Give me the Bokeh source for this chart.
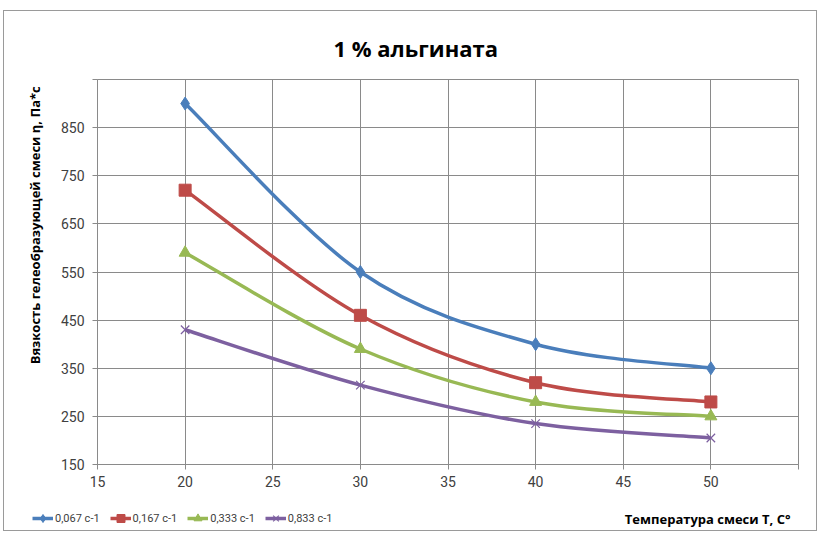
from bokeh.plotting import figure
from bokeh.models import FixedTicker, Legend, LegendItem, Label, Title
from bokeh.layouts import column
from bokeh.embed import file_html
from bokeh.resources import INLINE

# ---- data ----
temperature = [20, 30, 40, 50]
series_names = ["0,067 с-1", "0,167 с-1", "0,333 с-1", "0,833 с-1"]
visc_0067 = [900, 550, 400, 350]
visc_0167 = [720, 460, 320, 280]
visc_0333 = [590, 390, 280, 250]
visc_0833 = [430, 315, 235, 205]
x_ticks = [15, 20, 25, 30, 35, 40, 45, 50, 55]
y_ticks = [150, 250, 350, 450, 550, 650, 750, 850, 950]

title_text = "1 % альгината"
y_title = "Вязкость  гелеобразующей смеси  η, Па*с"
x_title = "Температура смеси Т, С°"

colors = ["#4A7EBB", "#BE4B48", "#98B954", "#7D60A0"]
markers = ["diamond", "square", "triangle", "x"]
msizes = [13, 12, 12, 12]
series = [visc_0067, visc_0167, visc_0333, visc_0833]

FONT = "Roboto"
GRID = "#8a8a8a"
W = 812

# ---- main chart ----
p = figure(width=W, height=483, output_backend="svg", toolbar_location=None,
           x_range=(15, 55), y_range=(150, 950),
           min_border_left=93, min_border_right=18, min_border_top=68, min_border_bottom=30)
p.frame_align = False

p.xaxis.ticker = FixedTicker(ticks=x_ticks)
p.yaxis.ticker = FixedTicker(ticks=y_ticks)
p.xaxis.major_label_overrides = {55: ""}
p.yaxis.major_label_overrides = {950: ""}
for ax in (p.xaxis, p.yaxis):
    ax.axis_line_color = GRID
    ax.major_tick_line_color = GRID
    ax.major_tick_out = 5
    ax.major_tick_in = 0
    ax.minor_tick_line_color = None
    ax.major_label_text_font = FONT
    ax.major_label_text_font_size = "14px"
    ax.major_label_text_color = "#404040"
p.yaxis.major_label_standoff = 8
p.xaxis.major_label_standoff = 6

p.xgrid.ticker = FixedTicker(ticks=x_ticks)
p.ygrid.ticker = FixedTicker(ticks=y_ticks)
p.grid.grid_line_color = GRID
p.grid.grid_line_width = 1
p.outline_line_color = GRID

p.title.text = title_text
p.title.align = "left"
p.title.offset = 236
p.title.text_font = "Open Sans"
p.title.text_font_size = "22px"
p.title.text_font_style = "bold"
p.title.text_color = "#000000"
p.title.standoff = 34

p.add_layout(Title(text=y_title, align="right", offset=0, standoff=28,
                   text_font="Open Sans", text_font_size="13px",
                   text_font_style="bold", text_color="#000000"), "left")

def smooth_controls(xs, ys):
    n = len(xs)
    segs = []
    for i in range(n - 1):
        i0 = max(i - 1, 0)
        i3 = min(i + 2, n - 1)
        cx0 = xs[i] + (xs[i + 1] - xs[i0]) / 6.0
        cy0 = ys[i] + (ys[i + 1] - ys[i0]) / 6.0
        cx1 = xs[i + 1] - (xs[i3] - xs[i]) / 6.0
        cy1 = ys[i + 1] - (ys[i3] - ys[i]) / 6.0
        segs.append((xs[i], ys[i], xs[i + 1], ys[i + 1], cx0, cy0, cx1, cy1))
    return segs

for ys, c, m, ms in zip(series, colors, markers, msizes):
    segs = smooth_controls(temperature, ys)
    p.bezier(x0=[s[0] for s in segs], y0=[s[1] for s in segs],
             x1=[s[2] for s in segs], y1=[s[3] for s in segs],
             cx0=[s[4] for s in segs], cy0=[s[5] for s in segs],
             cx1=[s[6] for s in segs], cy1=[s[7] for s in segs],
             line_color=c, line_width=3.5)
    if m == "x":
        p.scatter(temperature, ys, marker=m, size=ms, line_color=c, line_width=1.2)
    else:
        p.scatter(temperature, ys, marker=m, size=ms, fill_color=c, line_color=c)

# ---- legend strip (below the chart) ----
H2 = 36
p2 = figure(width=W, height=H2, output_backend="svg", toolbar_location=None,
            x_range=(0, W), y_range=(0, H2), x_axis_type=None, y_axis_type=None,
            min_border=0)
p2.frame_align = False
p2.outline_line_color = None
p2.grid.visible = False

items = []
for name, ys, c, m in zip(series_names, series, colors, markers):
    # legend-only renderers: the series data lie outside this strip's ranges
    lr = p2.line(temperature, ys, line_color=c, line_width=3.5)
    if m == "x":
        sr = p2.scatter(temperature, ys, marker=m, line_color=c, line_width=1.2)
    else:
        sr = p2.scatter(temperature, ys, marker=m, fill_color=c, line_color=c)
    items.append(LegendItem(label=name, renderers=[lr, sr]))

legend = Legend(items=items, orientation="horizontal", location=(28, 2),
                glyph_width=21, glyph_height=20, label_height=20, label_standoff=2,
                spacing=10, padding=0, margin=0, border_line_color=None,
                background_fill_alpha=0,
                label_text_font=FONT, label_text_font_size="11px",
                label_text_color="#404040")
p2.add_layout(legend, "center")

p2.add_layout(Label(x=786, y=12, text=x_title,
                    text_font="Open Sans", text_font_size="13px",
                    text_font_style="bold", text_color="#000000",
                    text_align="right", text_baseline="middle"))

layout = column(p, p2, spacing=0)
layout.styles = {"border": "1px solid #9a9a9a", "margin-left": "3px", "margin-top": "10px"}

open("out.html", "w").write(file_html(layout, INLINE))
